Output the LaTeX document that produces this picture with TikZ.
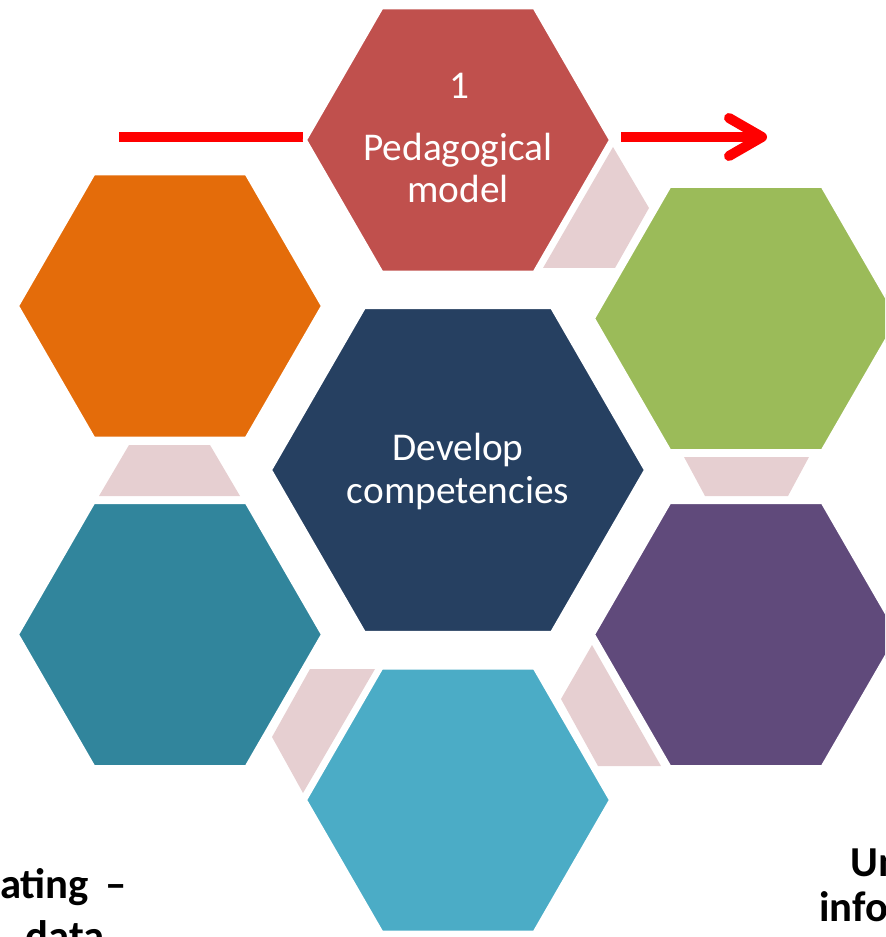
\documentclass[tikz,border=0pt]{standalone}
\usepackage{fontspec}
\setmainfont{Carlito}
\definecolor{hexred}{HTML}{C0504D}
\definecolor{hexorange}{HTML}{E46C0A}
\definecolor{hexgreen}{HTML}{9BBB59}
\definecolor{hexnavy}{HTML}{264061}
\definecolor{hexpurple}{HTML}{604A7B}
\definecolor{hexteal}{HTML}{31859C}
\definecolor{hexsky}{HTML}{4BACC6}
\definecolor{linkpink}{RGB}{230,207,209}
\newcommand{\hexshape}[5]{%
  \coordinate (#1) at (#2,#3);
  \fill[hexbox, fill=#5] (#1) ++(-#4,0) -- ++(0.5*#4,-0.8660254*#4) -- ++(#4,0)
    -- ++(0.5*#4,0.8660254*#4) -- ++(-0.5*#4,0.8660254*#4) -- ++(-#4,0) -- cycle;
}
\tikzset{
  hexbox/.style={draw=white, line width=3pt},
  linkbox/.style={fill=linkpink},
  wtext/.style={text=white, font=\fontsize{29.5}{32}\selectfont, inner sep=0pt, anchor=base},
  btext/.style={text=black, font=\fontsize{32}{34}\selectfont\bfseries, inner sep=0pt},
  redline/.style={draw=red, line width=7.5pt}
}
\begin{document}
\begin{tikzpicture}[x=0.75pt,y=-0.75pt]
\useasboundingbox (0,0) rectangle (885,937);
\clip (0,0) rectangle (885,937);
% arrow passing behind the top hexagon
\coordinate (arrS) at (119,137);
\coordinate (arrL) at (303,137);
\coordinate (arrR) at (621,137);
\coordinate (arrT) at (762,137);
\draw[redline, line cap=butt] (arrS) -- (arrL);
\draw[redline, line cap=butt] (arrR) -- (arrT);
\draw[redline, line cap=round, line join=round] (729,118) -- (arrT) -- (729,156);
% connectors
\fill[linkbox] (613,147) -- (649,208) -- (615,268) -- (543,268) -- cycle;
\fill[linkbox] (684,457) -- (809,457) -- (788,496) -- (705,496) -- cycle;
\fill[linkbox] (592,645) -- (661,766) -- (598,766) -- (561,699) -- cycle;
\fill[linkbox] (310,669) -- (375,669) -- (303,793) -- (272,737) -- cycle;
\fill[linkbox] (129,445) -- (210,445) -- (240,496) -- (99,496) -- cycle;
% hexagons
\hexshape{hTop}{458}{140}{153}{hexred}
\hexshape{hOrange}{170}{306}{153}{hexorange}
\hexshape{hGreen}{746}{318.5}{153}{hexgreen}
\hexshape{hTeal}{170}{634.5}{153}{hexteal}
\hexshape{hPurple}{746}{634.5}{153}{hexpurple}
\hexshape{hSky}{458}{800}{153}{hexsky}
\hexshape{hCenter}{458}{470}{188}{hexnavy}
% texts
\node[wtext] (tNum) at (459,99) {1};
\node[wtext] (tPed) at (458,161) {Pedagogical};
\node[wtext] (tMod) at (458,203) {model};
\node[wtext] (tDev) at (458,460) {Develop};
\node[wtext] (tComp) at (458,503) {competencies};
\node[btext, anchor=base west] (tEval) at (0,898) {ating\hspace{0.15em} –};
\node[btext, anchor=base] (tData) at (65,950) {data};
\node[btext, anchor=base west] (tUn) at (850,876) {Un};
\node[btext, anchor=base west] (tInfo) at (819,921) {info};
\end{tikzpicture}
\end{document}
